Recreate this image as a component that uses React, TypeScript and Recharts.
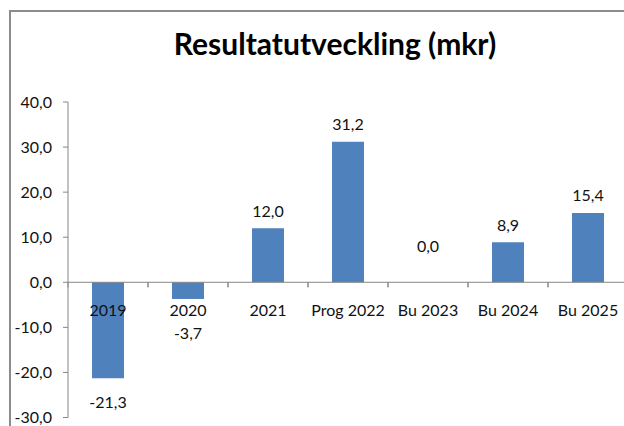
import React from 'react';
import { ComposedChart, Bar, Line, XAxis, YAxis, ReferenceLine, LabelList } from 'recharts';

const categories = ['2019', '2020', '2021', 'Prog 2022', 'Bu 2023', 'Bu 2024', 'Bu 2025'];
const results = [-21.3, -3.7, 12.0, 31.2, 0.0, 8.9, 15.4];
const yTicks = [-30, -20, -10, 0, 10, 20, 30, 40];

const data = categories.map((name, i) => ({ name, value: results[i] }));

// layout constants
const CHART_W = 640;
const CHART_H = 440;
const PLOT_TOP = 102;
const PLOT_BOTTOM = 417.5;
const AXIS_X = 68;
const Y_MIN = -30;
const Y_MAX = 40;
const ZERO_Y = PLOT_TOP + ((PLOT_BOTTOM - PLOT_TOP) * Y_MAX) / (Y_MAX - Y_MIN);
const BAND = (CHART_W - 12 - AXIS_X) / categories.length;

const AXIS_COLOR = '#868686';
const BAR_COLOR = '#4F81BD';
const FONT = 'Lato, "Open Sans", sans-serif';

const fmt = (v: number) => v.toFixed(1).replace('.', ',');

const CategoryTick = (props: any) => {
  const { x, payload } = props;
  return (
    <g>
      <line x1={x - BAND / 2} x2={x - BAND / 2} y1={ZERO_Y} y2={ZERO_Y + 5} stroke={AXIS_COLOR} />
      <line x1={x + BAND / 2} x2={x + BAND / 2} y1={ZERO_Y} y2={ZERO_Y + 5} stroke={AXIS_COLOR} />
      <text
        x={x}
        y={ZERO_Y + 27}
        textAnchor="middle"
        dominantBaseline="central"
        fontSize={16}
        fontFamily={FONT}
        fill="#111"
      >
        {payload.value}
      </text>
    </g>
  );
};

// labels sit above positive bars, below negative ones, clear of the category text
const ValueLabel = (props: any) => {
  const { x, y, value } = props;
  let cy = Math.min(y - 18, ZERO_Y - 37);
  if (value < 0) cy = Math.max(y + 23, ZERO_Y + 50);
  return (
    <text
      x={x}
      y={cy}
      textAnchor="middle"
      dominantBaseline="central"
      fontSize={16}
      fontFamily={FONT}
      fill="#111"
    >
      {fmt(value)}
    </text>
  );
};

export default function App() {
  return (
    <div
      style={{
        position: 'absolute',
        left: 0,
        top: 0,
        width: 624,
        height: 426,
        overflow: 'hidden',
        background: '#fff',
      }}
    >
      {/* chart frame */}
      <div
        style={{
          position: 'absolute',
          left: 9,
          top: 10,
          width: 700,
          height: 500,
          border: '2px solid #8c8c8c',
        }}
      />
      <div
        style={{
          position: 'absolute',
          left: 0,
          top: 25,
          width: 670,
          textAlign: 'center',
          fontFamily: FONT,
          fontWeight: 700,
          fontSize: 30,
          color: '#000',
        }}
      >
        Resultatutveckling (mkr)
      </div>
      <div style={{ position: 'absolute', left: 0, top: 0 }}>
        <ComposedChart
          width={CHART_W}
          height={CHART_H}
          data={data}
          barCategoryGap="30%"
          margin={{ top: PLOT_TOP, right: 12, bottom: CHART_H - PLOT_BOTTOM - 1, left: 0 }}
        >
          <XAxis
            dataKey="name"
            height={1}
            axisLine={false}
            tickLine={false}
            interval={0}
            tick={<CategoryTick />}
          />
          <YAxis
            width={AXIS_X}
            domain={[Y_MIN, Y_MAX]}
            ticks={yTicks}
            tickFormatter={fmt}
            axisLine={{ stroke: AXIS_COLOR }}
            tickLine={{ stroke: AXIS_COLOR }}
            tickSize={5}
            tickMargin={11}
            tick={{ fontSize: 16, fontFamily: FONT, fill: '#111' }}
            interval={0}
          />
          <ReferenceLine y={0} stroke={AXIS_COLOR} />
          <Bar dataKey="value" fill={BAR_COLOR} isAnimationActive={false} />
          <Line
            dataKey="value"
            stroke="none"
            dot={false}
            activeDot={false}
            isAnimationActive={false}
          >
            <LabelList dataKey="value" content={<ValueLabel />} />
          </Line>
        </ComposedChart>
      </div>
    </div>
  );
}
